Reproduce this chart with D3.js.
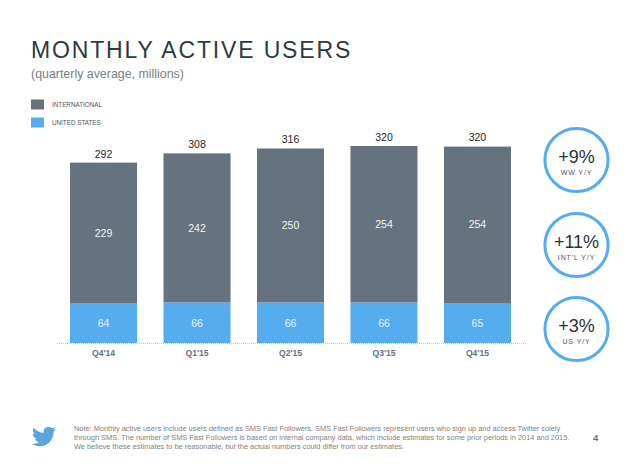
<!DOCTYPE html>
<html>
<head>
<meta charset="utf-8">
<script src="https://d3js.org/d3.v7.min.js"></script>
<style>
body { margin: 0; background: #fff; }
text { font-family: "Liberation Sans", Arial, sans-serif; }
</style>
</head>
<body>
<div id="chart"></div>
<script>
// values
var quarters = ["Q4'14", "Q1'15", "Q2'15", "Q3'15", "Q4'15"];
var international = [229, 242, 250, 254, 254];
var unitedStates = [64, 66, 66, 66, 65];
var totals = [292, 308, 316, 320, 320];
var growthValues = ["+9%", "+11%", "+3%"];
var growthLabels = ["WW Y/Y", "INT'L Y/Y", "US Y/Y"];
var legendLabels = ["INTERNATIONAL", "UNITED STATES"];
var noteLines = [
    "Note: Monthly active users include users defined as SMS Fast Followers. SMS Fast Followers represent users who sign up and access Twitter solely",
    "through SMS. The number of SMS Fast Followers is based on internal company data, which include estimates for some prior periods in 2014 and 2015.",
    "We believe these estimates to be reasonable, but the actual numbers could differ from our estimates."
];

var w = 630;
var h = 473;
var grey = "#66727d";
var blue = "#55acee";

var svg = d3.select("#chart")
    .append("svg")
    .attr("width", w)
    .attr("height", h)
    .style("display", "block");

// title block
svg.append("text")
    .attr("x", 31)
    .attr("y", 58)
    .attr("font-size", 23)
    .attr("letter-spacing", 1.85)
    .attr("fill", "#2e3a42")
    .text("MONTHLY ACTIVE USERS");

svg.append("text")
    .attr("x", 31)
    .attr("y", 77.5)
    .attr("font-size", 12.4)
    .attr("fill", "#74808a")
    .text("(quarterly average, millions)");

// legend
var legendColors = d3.scaleOrdinal().domain(legendLabels).range([grey, blue]);
var legend = svg.selectAll(".legend")
    .data(legendLabels)
    .enter()
    .append("g")
    .attr("class", "legend")
    .attr("transform", function(d, i){
        return "translate(31," + (99.5 + i * 18) + ")";
    });
legend.append("rect")
    .attr("width", 13)
    .attr("height", 10)
    .attr("fill", function(d){ return legendColors(d); });
legend.append("text")
    .attr("x", 21)
    .attr("y", 7.5)
    .attr("font-size", 6.3)
    .attr("fill", "#4a5560")
    .text(function(d){ return d; });

// scales
var x = d3.scaleBand()
    .domain(quarters)
    .range([56, 525])
    .paddingInner(0.283)
    .paddingOuter(0.15);
var y = d3.scaleLinear()
    .domain([0, 320])
    .range([343, 146]);

// stacked bars, international sits on top of the US part
var usBars = svg.selectAll(".us")
    .data(quarters)
    .enter()
    .append("rect")
    .attr("class", "us")
    .attr("x", function(d){ return x(d); })
    .attr("y", function(d, i){ return y(unitedStates[i]); })
    .attr("width", x.bandwidth())
    .attr("height", function(d, i){ return y(0) - y(unitedStates[i]); })
    .attr("fill", blue);

var intlBars = svg.selectAll(".intl")
    .data(quarters)
    .enter()
    .append("rect")
    .attr("class", "intl")
    .attr("x", function(d){ return x(d); })
    .attr("y", function(d, i){ return y(unitedStates[i] + international[i]); })
    .attr("width", x.bandwidth())
    .attr("height", function(d, i){ return y(0) - y(international[i]); })
    .attr("fill", grey);

// bar labels
function addLabels(cls, values, yPos, color){
    svg.selectAll("." + cls)
        .data(quarters)
        .enter()
        .append("text")
        .attr("class", cls)
        .attr("x", function(d){ return x(d) + x.bandwidth() / 2; })
        .attr("y", yPos)
        .attr("text-anchor", "middle")
        .attr("font-size", 10.5)
        .attr("fill", color)
        .text(function(d, i){ return values[i]; });
}
addLabels("usLabel", unitedStates, function(d, i){
    return (y(0) + y(unitedStates[i])) / 2 + 4;
}, "#e6f3fd");
addLabels("intlLabel", international, function(d, i){
    return (y(unitedStates[i]) + y(totals[i])) / 2 + 4;
}, "#f2f4f5");
addLabels("totalLabel", totals, function(d, i){
    return y(totals[i]) - 5;
}, "#1f2428");

// axis with dotted baseline
var axis = svg.append("g")
    .attr("transform", "translate(0,343)")
    .call(d3.axisBottom(x).tickSize(0).tickPadding(7));
axis.select(".domain")
    .attr("stroke", "#c4c8cc")
    .attr("shape-rendering", "crispEdges")
    .attr("stroke-dasharray", "1,1");
axis.selectAll("text")
    .attr("font-family", "Liberation Sans")
    .attr("font-size", 8.6)
    .attr("font-weight", "bold")
    .attr("fill", "#66727d");

// growth circles
var circleY = d3.scaleOrdinal()
    .domain(growthValues)
    .range([160, 245, 329]);
var badge = svg.selectAll(".badge")
    .data(growthValues)
    .enter()
    .append("g")
    .attr("class", "badge")
    .attr("transform", function(d){
        return "translate(576.5," + circleY(d) + ")";
    });
badge.append("circle")
    .attr("r", 31.6)
    .attr("fill", "#fff")
    .attr("stroke", blue)
    .attr("stroke-width", 3);
badge.append("text")
    .attr("y", 3)
    .attr("text-anchor", "middle")
    .attr("font-size", 18)
    .attr("fill", "#2a3138")
    .text(function(d){ return d; });
badge.append("text")
    .attr("y", 14.5)
    .attr("text-anchor", "middle")
    .attr("font-size", 7)
    .attr("letter-spacing", 0.9)
    .attr("fill", "#4a5560")
    .text(function(d, i){ return growthLabels[i]; });

// footer: bird, note and page number
svg.append("path")
    .attr("transform", "translate(32,424.5)")
    .attr("fill", "#5aa6dc")
    .attr("d", "M23.953 4.57a10 10 0 01-2.825.775 4.958 4.958 0 002.163-2.723c-.951.555-2.005.959-3.127 1.184a4.92 4.92 0 00-8.384 4.482C7.69 8.095 4.067 6.13 1.64 3.162a4.822 4.822 0 00-.666 2.475c0 1.71.87 3.213 2.188 4.096a4.904 4.904 0 01-2.228-.616v.06a4.923 4.923 0 003.946 4.827 4.996 4.996 0 01-2.212.085 4.936 4.936 0 004.604 3.417 9.867 9.867 0 01-6.102 2.105c-.39 0-.779-.023-1.17-.067a13.995 13.995 0 007.557 2.209c9.053 0 13.998-7.496 13.998-13.985 0-.21 0-.42-.015-.63A9.935 9.935 0 0024 4.59z");

svg.selectAll(".note")
    .data(noteLines)
    .enter()
    .append("text")
    .attr("class", "note")
    .attr("x", 74)
    .attr("y", function(d, i){ return 431 + i * 9; })
    .attr("font-size", 7.4)
    .attr("fill", "#7f7f7f")
    .text(function(d){ return d; });

svg.append("text")
    .attr("x", 593)
    .attr("y", 441)
    .attr("font-size", 9.5)
    .attr("font-weight", "bold")
    .attr("fill", "#66727d")
    .text("4");
</script>
</body>
</html>
